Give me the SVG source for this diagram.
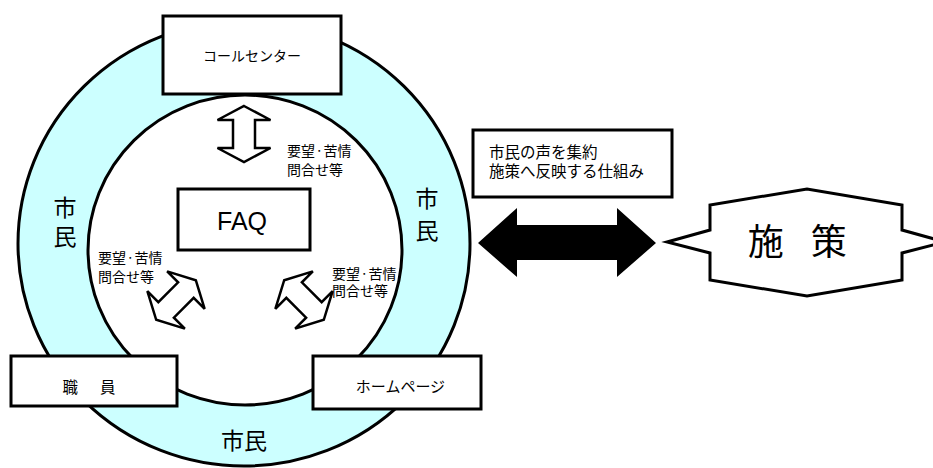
<svg xmlns="http://www.w3.org/2000/svg" xmlns:xlink="http://www.w3.org/1999/xlink" width="933" height="468" viewBox="0 0 933 468">
<style>
.box{fill:#fff;stroke:#000;stroke-width:3}
.jp{font-family:"Liberation Sans","Noto Sans CJK JP","Noto Sans CJK SC",sans-serif;fill:#000}
.hollow{fill:#fff;stroke:#000;stroke-width:2.5;stroke-linejoin:miter}
.lbl{font-size:14px}
.dot{font-size:8.5px}
.citizen{font-size:23px;text-anchor:middle}
</style>
<defs>
<path id="dblArrow" d="M0,-28 L26.5,-14 L11,-14 L11,14 L26.5,14 L0,28 L-26.5,14 L-11,14 L-11,-14 L-26.5,-14 Z"/>
</defs>
<rect width="933" height="468" fill="#fff"/>

<g id="ring">
<ellipse cx="244" cy="243.5" rx="226" ry="222.5" fill="#CCFFFF" stroke="#000" stroke-width="3"/>
<ellipse cx="245" cy="250" rx="157" ry="155" fill="#fff" stroke="#000" stroke-width="3"/>
<text class="jp citizen" x="65" y="216">市</text>
<text class="jp citizen" x="65" y="245">民</text>
<text class="jp citizen" x="427" y="207">市</text>
<text class="jp citizen" x="427" y="239">民</text>
<text class="jp citizen" x="244" y="449">市民</text>
</g>

<g id="callcenter">
<rect class="box" x="163" y="16" width="178" height="78"/>
<text class="jp" x="252" y="61" font-size="14" text-anchor="middle">コールセンター</text>
</g>

<g id="faq">
<rect class="box" x="178" y="189" width="132" height="61"/>
<text x="242" y="230" font-family="Liberation Sans, Arial, sans-serif" font-size="25" text-anchor="middle">FAQ</text>
</g>

<g id="staff">
<rect class="box" x="11" y="356" width="166" height="50"/>
<text class="jp" x="62.5" y="393" font-size="15.5" letter-spacing="3.25">職　員</text>
</g>

<g id="homepage">
<rect class="box" x="313" y="356" width="168" height="53"/>
<text class="jp" x="400.5" y="392" font-size="15" text-anchor="middle">ホームページ</text>
</g>

<g id="mechanism">
<rect class="box" x="473" y="130" width="199" height="67"/>
<text class="jp" x="489" y="158" font-size="15.5">市民の声を集約</text>
<text class="jp" x="489" y="177" font-size="15.5">施策へ反映する仕組み</text>
</g>

<g id="policy">
<polygon points="667,242 710,230 710,205 807,189 902,205 902,230 945,242 902,253 902,280 807,296 710,280 710,253" fill="#fff" stroke="#000" stroke-width="3" stroke-linejoin="miter"/>
<text class="jp" x="795" y="255" font-size="36" text-anchor="middle" letter-spacing="-4.5">施　策</text>
</g>

<g id="connectors">
<use xlink:href="#dblArrow" class="hollow" transform="translate(244,134)"/>
<use xlink:href="#dblArrow" class="hollow" transform="translate(176,300) rotate(45)"/>
<use xlink:href="#dblArrow" class="hollow" transform="translate(304,300) rotate(-45)"/>
<polygon points="478,243 517,208 517,225 617,225 617,208 656,243 617,277 617,260 517,260 517,277" fill="#000"/>
<text class="jp lbl" x="287" y="156">要望<tspan class="dot" dy="-2.2">・</tspan><tspan dy="2.2">苦情</tspan></text>
<text class="jp lbl" x="287" y="175">問合せ等</text>
<text class="jp lbl" x="98" y="263">要望<tspan class="dot" dy="-2.2">・</tspan><tspan dy="2.2">苦情</tspan></text>
<text class="jp lbl" x="98" y="282">問合せ等</text>
<text class="jp lbl" x="332" y="279">要望<tspan class="dot" dy="-2.2">・</tspan><tspan dy="2.2">苦情</tspan></text>
<text class="jp lbl" x="332" y="296">問合せ等</text>
</g>
</svg>
